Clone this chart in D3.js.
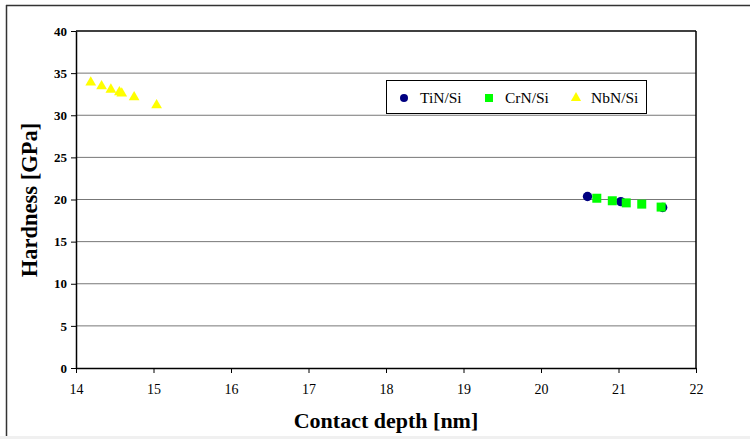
<!DOCTYPE html>
<html>
<head>
<meta charset="utf-8">
<script src="https://cdn.jsdelivr.net/npm/d3@7"></script>
<style>
  html, body { margin: 0; padding: 0; background: #fff; }
  svg { display: block; }
  svg text { font-family: "Liberation Serif", "Times New Roman", serif; }
</style>
</head>
<body>
<svg id="chart" width="750" height="439"></svg>
<script>
// Nanoindentation hardness vs. contact depth for three nitride/Si coatings
const seriesNames = ["TiN/Si", "CrN/Si", "NbN/Si"];

const tinDepth = [20.60, 21.03, 21.57];
const tinHardness = [20.35, 19.75, 19.05];

const crnDepth = [20.72, 20.92, 21.10, 21.30, 21.55];
const crnHardness = [20.15, 19.85, 19.6, 19.45, 19.1];

const nbnDepth = [14.19, 14.33, 14.45, 14.56, 14.59, 14.75, 15.04];
const nbnHardness = [33.9, 33.45, 33.05, 32.75, 32.6, 32.15, 31.2];

const xTicks = [14, 15, 16, 17, 18, 19, 20, 21, 22];
const yTicks = [0, 5, 10, 15, 20, 25, 30, 35, 40];

const serif = '"Liberation Serif", "Times New Roman", serif';
const svg = d3.select("#chart");
const W = 750, H = 439;
const plot = { left: 76, right: 696, top: 31, bottom: 368 };

// outer chart frame
svg.append("rect").attr("x", 0).attr("y", 436).attr("width", W).attr("height", 3).attr("fill", "#f0f0f0");
svg.append("line").attr("x1", 6).attr("x2", W).attr("y1", 5.5).attr("y2", 5.5)
  .attr("stroke", "#333").attr("stroke-width", 1.5);
svg.append("line").attr("x1", 6.5).attr("x2", 6.5).attr("y1", 5).attr("y2", 436)
  .attr("stroke", "#333").attr("stroke-width", 1.5);

const x = d3.scaleLinear().domain([14, 22]).range([plot.left, plot.right]);
const y = d3.scaleLinear().domain([0, 40]).range([plot.bottom, plot.top]);

// horizontal gridlines
svg.append("g").selectAll("line").data(yTicks.filter(v => v > 0 && v < 40)).join("line")
  .attr("x1", plot.left).attr("x2", plot.right)
  .attr("y1", d => y(d)).attr("y2", d => y(d))
  .attr("stroke", "#777").attr("stroke-width", 1);

// plot frame: top and right edges
svg.append("line").attr("x1", plot.left).attr("x2", plot.right).attr("y1", plot.top).attr("y2", plot.top)
  .attr("stroke", "#000").attr("stroke-width", 1.5);
svg.append("line").attr("x1", plot.right).attr("x2", plot.right).attr("y1", plot.top).attr("y2", plot.bottom)
  .attr("stroke", "#000").attr("stroke-width", 1.5);

// axes
const xAxis = d3.axisBottom(x).tickValues(xTicks).tickFormat(d3.format("d")).tickSize(5).tickSizeOuter(0);
const gx = svg.append("g").attr("transform", `translate(0,${plot.bottom})`).call(xAxis)
  .attr("font-family", serif);
gx.select(".domain").attr("stroke", "#000").attr("stroke-width", 1.5);
gx.selectAll(".tick line").attr("stroke", "#000");
gx.selectAll(".tick text").style("font-family", serif)
  .attr("font-size", 14).attr("fill", "#000").attr("dy", "1.3em");

const yAxis = d3.axisLeft(y).tickValues(yTicks).tickFormat(d3.format("d")).tickSize(5).tickSizeOuter(0);
const gy = svg.append("g").attr("transform", `translate(${plot.left},0)`).call(yAxis)
  .attr("font-family", serif);
gy.select(".domain").attr("stroke", "#000").attr("stroke-width", 1.5);
gy.selectAll(".tick line").attr("stroke", "#000");
gy.selectAll(".tick text").style("font-family", serif)
  .attr("font-size", 13).attr("font-weight", "bold").attr("fill", "#000").attr("x", -9);

// axis titles
svg.append("text").attr("x", 386).attr("y", 428).attr("text-anchor", "middle")
  .style("font-family", serif).attr("font-weight", "bold")
  .attr("font-size", 22).text("Contact depth [nm]");
svg.append("text").attr("transform", "translate(37,200) rotate(-90)").attr("text-anchor", "middle")
  .style("font-family", serif).attr("font-weight", "bold")
  .attr("font-size", 22.5).text("Hardness [GPa]");

// markers
const triangle = d3.symbol().type(d3.symbolTriangle).size(50);

svg.append("g").selectAll("path").data(d3.zip(nbnDepth, nbnHardness)).join("path")
  .attr("d", triangle).attr("transform", d => `translate(${x(d[0])},${y(d[1])})`)
  .attr("fill", "#ffff00");

svg.append("g").selectAll("circle").data(d3.zip(tinDepth, tinHardness)).join("circle")
  .attr("cx", d => x(d[0])).attr("cy", d => y(d[1])).attr("r", 4.7)
  .attr("fill", "#000080");

svg.append("g").selectAll("rect").data(d3.zip(crnDepth, crnHardness)).join("rect")
  .attr("x", d => x(d[0]) - 4.5).attr("y", d => y(d[1]) - 4.5)
  .attr("width", 9).attr("height", 9).attr("fill", "#00ff00");

// legend
const legend = svg.append("g");
legend.append("rect").attr("x", 386.5).attr("y", 80.5).attr("width", 260).attr("height", 33)
  .attr("fill", "#fff").attr("stroke", "#000").attr("stroke-width", 1);
const legendMarkerX = [404, 489, 576];
const legendTextX = [420, 505, 591];
const ly = 98;
legend.append("circle").attr("cx", legendMarkerX[0]).attr("cy", ly).attr("r", 4).attr("fill", "#000080");
legend.append("rect").attr("x", legendMarkerX[1] - 4).attr("y", ly - 4).attr("width", 8).attr("height", 8).attr("fill", "#00ff00");
legend.append("path").attr("d", d3.symbol().type(d3.symbolTriangle).size(45))
  .attr("transform", `translate(${legendMarkerX[2]},${ly})`).attr("fill", "#ffff00");
legend.selectAll("text.lbl").data(seriesNames).join("text").attr("class", "lbl")
  .attr("x", (d, i) => legendTextX[i]).attr("y", ly + 5)
  .style("font-family", serif).attr("font-size", 15.5)
  .text(d => d);
</script>
</body>
</html>
